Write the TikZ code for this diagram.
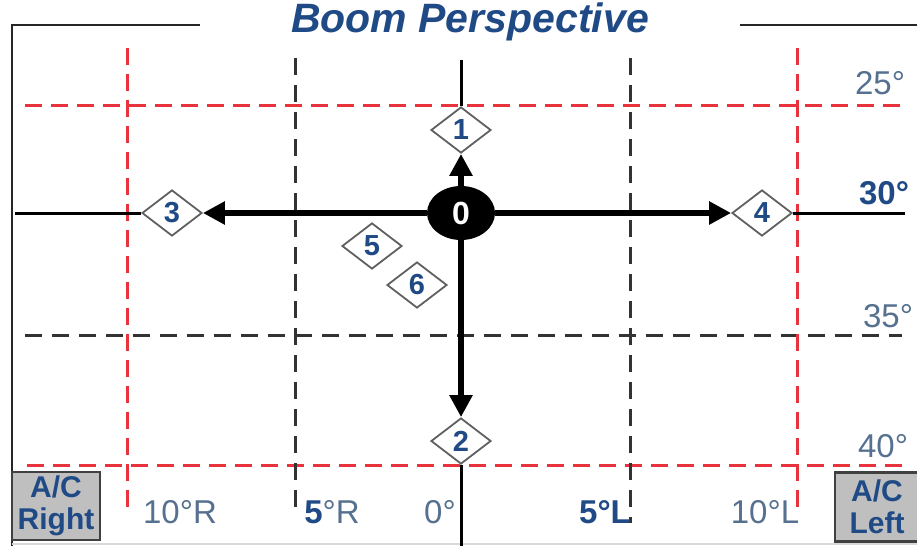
\documentclass[tikz,border=0pt]{standalone}
\usepackage{fontspec}
\setmainfont{Liberation Sans}
\usetikzlibrary{shapes.geometric,arrows.meta}
\definecolor{navy}{HTML}{1F4A85}
\definecolor{slate}{HTML}{56708F}
\definecolor{gridred}{HTML}{E8333C}
\begin{document}
\begin{tikzpicture}[x=1pt,y=-1pt,
  num/.style={diamond, draw=gray!75!black, line width=1.8pt, fill=white, minimum width=60pt, minimum height=46pt, inner sep=0pt, text=navy, font=\fontsize{29}{29}\selectfont\bfseries},
  hub/.style={ellipse, fill=black, minimum width=68pt, minimum height=54pt, inner sep=0pt, text=white, font=\fontsize{32}{32}\selectfont\bfseries},
  redgrid/.style={gridred, line width=3pt, dash pattern=on 17pt off 9pt},
  blackgrid/.style={black!80, line width=3pt, dash pattern=on 17pt off 10pt},
  axisline/.style={line width=3pt},
  move/.style={line width=6.5pt, -{Triangle[length=22pt,width=22pt]}},
  deg/.style={text=slate, inner sep=0pt, font=\fontsize{33}{33}\selectfont},
  degb/.style={deg, text=navy, font=\fontsize{33}{33}\selectfont\bfseries},
  acbox/.style={draw=black!75, line width=2.5pt, fill=gray!50, text=navy, align=center, inner sep=0pt, font=\fontsize{30}{32}\selectfont\bfseries}]
\useasboundingbox (0,0) rectangle (917,546);

\draw[line width=2.5pt, black!85] (200,25) -- (12,25) -- (12,546);
\draw[line width=2.5pt, black!85] (740,25) -- (917,25);
\draw[line width=2pt, gray!30] (12,544) -- (917,544);
\node[text=navy, font=\fontsize{41}{41}\selectfont\bfseries\itshape] (title) at (470,22) {Boom Perspective};

\draw[redgrid] (25,105) -- (902,105);
\draw[redgrid] (27,465) -- (905,465);
\draw[blackgrid] (25,335) -- (902,335);
\draw[redgrid] (127,48) -- (127,510);
\draw[redgrid] (797,48) -- (797,510);
\draw[blackgrid] (295,58) -- (295,510);
\draw[blackgrid] (630,58) -- (630,523);

\coordinate (top) at (461,60);
\coordinate (bot) at (461,546);
\coordinate (lft) at (15,213);
\coordinate (rgt) at (905,213);

\node[hub] (n0) at (461,213) {0};
\node[num] (n1) at (461,130) {1};
\node[num] (n2) at (461,441) {2};
\node[num] (n3) at (172,213) {3};
\node[num] (n4) at (762,213) {4};
\node[num] (n5) at (372,246) {5};
\node[num] (n6) at (417,285) {6};

\draw[axisline] (top) -- (n1);
\draw[axisline] (n2) -- (bot);
\draw[axisline] (lft) -- (n3);
\draw[axisline] (n4) -- (rgt);
\draw[move] (n0) -- (n1);
\draw[move] (n0) -- (n2);
\draw[move] (n0) -- (n3);
\draw[move] (n0) -- (n4);

\node[deg] (d25) at (880,83) {25°};
\node[degb] (d30) at (884,193) {30°};
\node[deg] (d35) at (888,316) {35°};
\node[deg] (d40) at (883,446) {40°};
\node[deg] (r10) at (180,512) {10°R};
\node[deg] (r5) at (332,512) {\textbf{\color{navy}5}°R};
\node[deg] (c0) at (440,512) {0°};
\node[degb] (l5) at (605,512) {5°L};
\node[deg] (l10) at (765,512) {10°L};

\node[acbox, minimum width=88pt, minimum height=68pt] (acr) at (56,506) {A/C\\Right};
\node[acbox, minimum width=84pt, minimum height=69pt] (acl) at (877,507) {A/C\\Left};
\end{tikzpicture}
\end{document}
